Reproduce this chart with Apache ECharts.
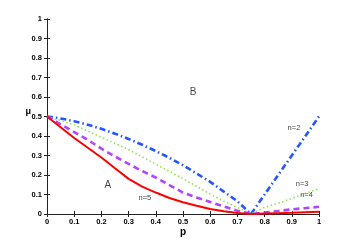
<!DOCTYPE html>
<html>
<head>
<meta charset="utf-8">
<script src="https://cdn.jsdelivr.net/npm/echarts@6/dist/echarts.min.js"></script>
<style>
html,body{margin:0;padding:0;background:#fff;}
#chart{width:352px;height:242px;}
</style>
</head>
<body>
<div id="chart"></div>
<script>
// p values (x axis)
var pValues = [0, 0.05, 0.1, 0.15, 0.2, 0.25, 0.3, 0.35, 0.4, 0.45, 0.5, 0.55, 0.6, 0.65, 0.7, 0.75, 0.8, 0.85, 0.9, 0.95, 1];
// mu values for each n
var muN2 = [0.5, 0.49, 0.476, 0.458, 0.437, 0.412, 0.385, 0.355, 0.323, 0.288, 0.25, 0.208, 0.165, 0.115, 0.065, 0.0, 0.1, 0.2, 0.3, 0.4, 0.5];
var muN3 = [0.5, 0.48, 0.457, 0.425, 0.393, 0.362, 0.33, 0.293, 0.255, 0.218, 0.182, 0.142, 0.102, 0.066, 0.034, 0.0, 0.034, 0.055, 0.08, 0.105, 0.13];
var muN4 = [0.5, 0.46, 0.42, 0.38, 0.335, 0.295, 0.257, 0.22, 0.187, 0.148, 0.11, 0.085, 0.062, 0.038, 0.017, 0.0, 0.008, 0.015, 0.024, 0.03, 0.037];
var muN5 = [0.5, 0.445, 0.39, 0.34, 0.29, 0.235, 0.18, 0.14, 0.11, 0.082, 0.06, 0.042, 0.026, 0.014, 0.005, 0.0, 0.002, 0.004, 0.006, 0.009, 0.012];
// annotation texts and their data positions [p, mu]
var annoText = ['A', 'B', 'n=2', 'n=3', 'n=4', 'n=5'];
var annoP = [0.224, 0.537, 0.908, 0.938, 0.954, 0.36];
var annoMu = [0.15, 0.624, 0.441, 0.153, 0.097, 0.082];
var annoSize = [10, 10, 7.5, 7.5, 7.5, 7.5];

function pairs(ys) {
  return pValues.map(function (p, i) { return [p, ys[i]]; });
}

var chart = echarts.init(document.getElementById('chart'), null, {renderer: 'canvas'});
var font = 'Liberation Sans, Arial, sans-serif';
var tickLabel = {fontSize: 7.5, fontWeight: 'bold', color: '#000', fontFamily: font};
var axisLine = {show: true, lineStyle: {color: '#222', width: 1}};
var axisTick = {show: true, inside: true, length: 3, lineStyle: {color: '#222', width: 1}};

var option = {
  animation: false,
  backgroundColor: '#fff',
  grid: {left: 47, right: 33, top: 19, bottom: 27, containLabel: false},
  xAxis: [
    {type: 'value', min: 0, max: 1, interval: 0.1, position: 'bottom',
     name: 'p', nameLocation: 'middle', nameGap: 13, nameMoveOverlap: false,
     nameTextStyle: {fontSize: 10, fontWeight: 'bold', color: '#000', fontFamily: font},
     axisLine: axisLine, axisTick: axisTick, splitLine: {show: false},
     axisLabel: Object.assign({margin: 4}, tickLabel)},
    {type: 'value', min: 0, max: 1, interval: 0.1, position: 'top',
     axisLine: axisLine, axisTick: axisTick, splitLine: {show: false},
     axisLabel: {show: false}}
  ],
  yAxis: [
    {type: 'value', min: 0, max: 1, interval: 0.1, position: 'left',
     name: 'μ', nameLocation: 'middle', nameGap: 16, nameRotate: 0, nameMoveOverlap: false,
     nameTextStyle: {fontSize: 9, fontWeight: 'bold', color: '#000', fontFamily: font, verticalAlign: 'bottom'},
     axisLine: axisLine, axisTick: axisTick, splitLine: {show: false},
     axisLabel: Object.assign({margin: 5}, tickLabel)},
    {type: 'value', min: 0, max: 1, interval: 0.1, position: 'right',
     axisLine: axisLine, axisTick: axisTick, splitLine: {show: false},
     axisLabel: {show: false}}
  ],
  series: [
    {type: 'line', name: 'n=5', data: pairs(muN5), showSymbol: false, smooth: false,
     lineStyle: {color: '#ff0000', width: 2, type: 'solid'}, z: 5},
    {type: 'line', name: 'n=4', data: pairs(muN4), showSymbol: false,
     lineStyle: {color: '#b246ff', width: 2.6, type: [6, 4]}, z: 4},
    {type: 'line', name: 'n=3', data: pairs(muN3), showSymbol: false,
     lineStyle: {color: '#8ee84a', width: 1.6, type: [1.5, 2.5]}, z: 3},
    {type: 'line', name: 'n=2', data: pairs(muN2), showSymbol: false,
     lineStyle: {color: '#2455ff', width: 2.6, type: [6, 3, 1.5, 3]}, z: 2},
    {type: 'scatter', symbolSize: 0, silent: true, z: 10,
     data: annoText.map(function (t, i) {
       return {name: t, value: [annoP[i], annoMu[i]],
               label: {fontSize: annoSize[i]}};
     }),
     label: {show: true, position: 'inside', formatter: '{b}', color: '#111',
             fontFamily: font}}
  ]
};
chart.setOption(option);
</script>
</body>
</html>
